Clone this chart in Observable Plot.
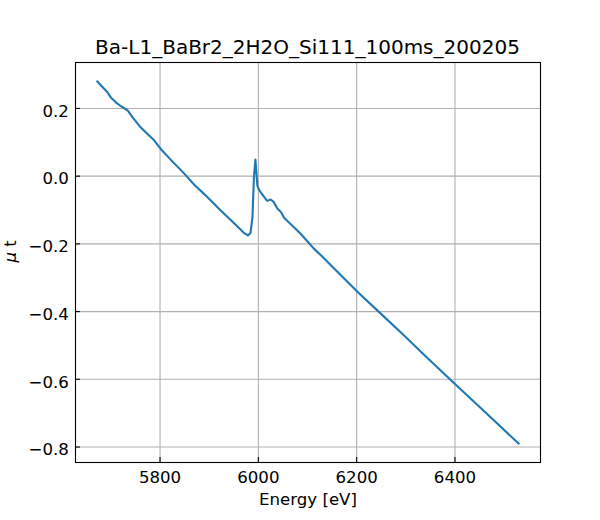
<!DOCTYPE html>
<html>
<head>
<meta charset="utf-8">
<script src="https://cdn.jsdelivr.net/npm/d3@7"></script>
<script src="https://cdn.jsdelivr.net/npm/@observablehq/plot@0.6"></script>
<style>
  html, body { margin: 0; padding: 0; background: #fff; }
  #wrap { position: relative; width: 600px; font-family: "DejaVu Sans", sans-serif; }
  #title { position: relative; height: 56px; }
  #title span { position: absolute; left: 0; width: 615px; top: 37px; text-align: center;
    font-size: 20px; line-height: 20px; color: #000; white-space: nowrap; }
  svg { display: block; }
</style>
</head>
<body>
<div id="wrap">
  <div id="title"><span id="titletext"></span></div>
  <div id="chart"></div>
</div>
<script>
const titleText = "Ba-L1_BaBr2_2H2O_Si111_100ms_200205";
const xLabel = "Energy [eV]";
const yLabel = "μ t";

const energy = [5671, 5680, 5693, 5700, 5710, 5722, 5734, 5745, 5760, 5775, 5788, 5801, 5822, 5839, 5852, 5870, 5890, 5923, 5957, 5971, 5979, 5984, 5988, 5991, 5994, 5996, 5998, 6002, 6012, 6018, 6025, 6031, 6039, 6046, 6052, 6066, 6086, 6113, 6134, 6154, 6202, 6249, 6290, 6344, 6358, 6400, 6466, 6531];
const mu = [0.282, 0.268, 0.248, 0.232, 0.218, 0.205, 0.194, 0.172, 0.145, 0.124, 0.106, 0.081, 0.048, 0.023, 0.003, -0.026, -0.053, -0.101, -0.148, -0.168, -0.175, -0.168, -0.121, -0.003, 0.049, 0.010, -0.028, -0.042, -0.062, -0.073, -0.069, -0.076, -0.096, -0.106, -0.122, -0.142, -0.170, -0.214, -0.243, -0.273, -0.342, -0.406, -0.462, -0.537, -0.556, -0.614, -0.703, -0.792];

const xTicks = [5800, 6000, 6200, 6400];
const yTicks = [0.2, 0.0, -0.2, -0.4, -0.6, -0.8];

document.getElementById("titletext").textContent = titleText;

const data = energy.map((e, i) => ({e, m: mu[i]}));

// matplotlib-like 5% margins
const xMin = d3.min(energy), xMax = d3.max(energy);
const yMin = d3.min(mu), yMax = d3.max(mu);
const xPad = (xMax - xMin) * 0.05, yPad = (yMax - yMin) * 0.05;

const innerH = 400, innerW = 465;
const fs = 16.6;

const plot = Plot.plot({
  width: 600,
  height: 464,
  marginTop: 6,
  marginBottom: 58,
  marginLeft: 75,
  marginRight: 60,
  style: {fontFamily: "DejaVu Sans, sans-serif", fontSize: fs + "px", color: "#000", background: "#fff"},
  x: {domain: [xMin - xPad, xMax + xPad]},
  y: {domain: [yMin - yPad, yMax + yPad]},
  marks: [
    Plot.gridX(xTicks, {stroke: "#b0b0b0", strokeOpacity: 1, strokeWidth: 1.1}),
    Plot.gridY(yTicks, {stroke: "#b0b0b0", strokeOpacity: 1, strokeWidth: 1.1}),
    Plot.axisX(xTicks, {tickSize: 0, tickPadding: 8.5, tickFormat: d3.format("d"), label: null, fontSize: fs}),
    Plot.axisY(yTicks, {tickSize: 0, tickPadding: 6.7, dy: 3, tickFormat: d3.format(".1f"), label: null, fontSize: fs}),
    // inward ticks
    Plot.ruleX(xTicks, {x: d => d, insetTop: innerH - 5, stroke: "#000", strokeWidth: 1.1}),
    Plot.ruleY(yTicks, {y: d => d, insetRight: innerW - 5, stroke: "#000", strokeWidth: 1.1}),
    Plot.line(data, {x: "e", y: "m", stroke: "#1f77b4", strokeWidth: 2.1, strokeLinejoin: "round", strokeLinecap: "butt"}),
    Plot.frame({stroke: "#000", strokeWidth: 1.1}),
    Plot.text([xLabel], {frameAnchor: "bottom", dy: 37, lineAnchor: "middle", fontSize: fs, fill: "#000"}),
    Plot.text([yLabel], {frameAnchor: "left", dx: -65.3, rotate: -90, lineAnchor: "middle", fontSize: fs, fill: "#000"})
  ]
});
// italic mu as in matplotlib mathtext
d3.select(plot).selectAll("text").filter(function() { return this.textContent === yLabel; }).each(function() {
  const t = d3.select(this);
  t.text(null);
  t.append("tspan").attr("font-style", "italic").text("μ");
  t.append("tspan").text(" t");
});
document.getElementById("chart").appendChild(plot);
</script>
</body>
</html>
